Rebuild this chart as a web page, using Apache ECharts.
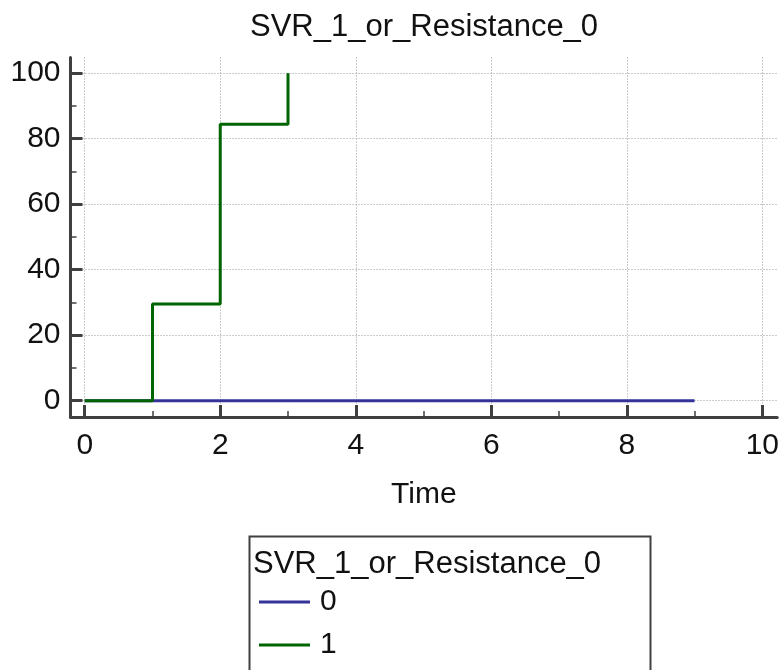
<!DOCTYPE html>
<html>
<head>
<meta charset="utf-8">
<script src="https://cdn.jsdelivr.net/npm/echarts@6/dist/echarts.min.js"></script>
<style>
  html, body { margin: 0; padding: 0; background: #fff; }
  #chart { width: 782px; height: 670px; }
</style>
</head>
<body>
<div id="chart"></div>
<script>
// data
const chartTitle = "SVR_1_or_Resistance_0";
const xName = "Time";
const groupNames = ["0", "1"];
const times_0 = [0, 9];
const values_0 = [0, 0];
const times_1 = [0, 1, 2, 3];
const values_1 = [0, 29.5, 84.4, 100];
const xTicks = [0, 2, 4, 6, 8, 10];
const yTicks = [0, 20, 40, 60, 80, 100];

const colors = ["#333399", "#006400"];
const axisColor = "#404040";
const textColor = "#111";
const font = "Liberation Sans, Arial, sans-serif";

function pairs(xs, ys) {
  return xs.map((x, i) => [x, ys[i]]);
}

const myChart = echarts.init(document.getElementById("chart"), null, { renderer: "canvas" });

const axisCommon = {
  type: "value",
  axisLine: { show: true, onZero: false, lineStyle: { color: axisColor, width: 3 } },
  axisTick: { show: true, inside: true, length: 12, lineStyle: { color: axisColor, width: 3 } },
  minorTick: { show: true, splitNumber: 2, length: 6, lineStyle: { color: axisColor, width: 1.5 } },
  splitLine: { show: true, lineStyle: { color: "#999", type: [1, 2], width: 1 } },
  axisLabel: { color: textColor, fontSize: 30, fontFamily: font }
};

myChart.setOption({
  animation: false,
  backgroundColor: "#fff",
  title: {
    text: chartTitle,
    left: 250,
    top: 12,
    padding: 0,
    textStyle: { color: textColor, fontSize: 31, fontWeight: "normal", fontFamily: font }
  },
  grid: { left: 70.5, right: 4, top: 57.5, bottom: 253, containLabel: false },
  xAxis: Object.assign({}, axisCommon, {
    min: -0.21,
    max: 10.22,
    minInterval: 2,
    maxInterval: 2,
    name: xName,
    nameLocation: "middle",
    nameGap: 63,
    nameTextStyle: { color: textColor, fontSize: 30, fontFamily: font },
    axisTick: Object.assign({}, axisCommon.axisTick, { customValues: xTicks }),
    axisLabel: Object.assign({}, axisCommon.axisLabel, { customValues: xTicks, margin: 14 })
  }),
  yAxis: Object.assign({}, axisCommon, {
    min: -5,
    max: 104.8,
    minInterval: 20,
    maxInterval: 20,
    axisTick: Object.assign({}, axisCommon.axisTick, { customValues: yTicks }),
    axisLabel: Object.assign({}, axisCommon.axisLabel, { customValues: yTicks, margin: 10 })
  }),
  legend: {
    orient: "vertical",
    left: 259,
    top: 587,
    padding: 0,
    icon: "rect",
    itemWidth: 51,
    itemHeight: 3,
    itemGap: 13,
    textStyle: { color: textColor, fontSize: 30, fontFamily: font, padding: [0, 0, 0, 5] },
    data: groupNames
  },
  graphic: [
    {
      type: "rect",
      left: 247,
      top: 534,
      shape: { width: 401, height: 150 },
      style: { fill: "none", stroke: axisColor, lineWidth: 2 }
    },
    {
      type: "text",
      left: 253,
      top: 549,
      style: { text: chartTitle, fill: textColor, fontSize: 31, fontFamily: font }
    }
  ],
  series: [
    {
      name: groupNames[0],
      type: "line",
      step: "end",
      symbol: "none",
      color: colors[0],
      lineStyle: { width: 3 },
      data: pairs(times_0, values_0)
    },
    {
      name: groupNames[1],
      type: "line",
      step: "end",
      symbol: "none",
      color: colors[1],
      lineStyle: { width: 3 },
      data: pairs(times_1, values_1)
    }
  ]
});
</script>
</body>
</html>
